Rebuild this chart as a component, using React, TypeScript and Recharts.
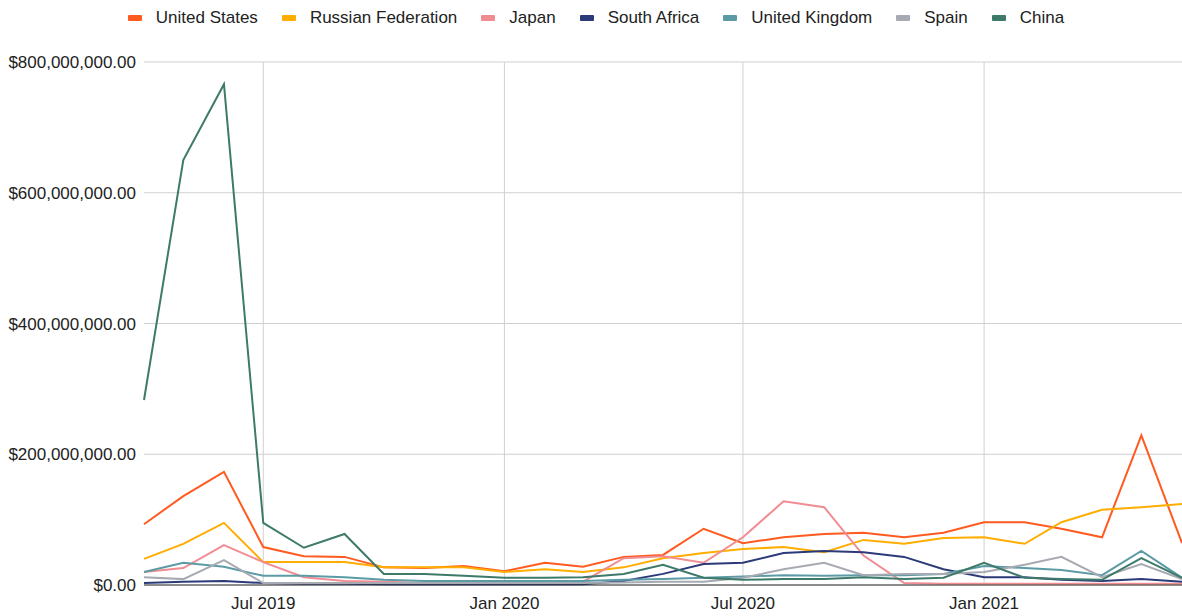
import { LineChart, Line, XAxis, YAxis, CartesianGrid } from 'recharts';

// monthly points, Apr 2019 .. Jun 2021
const months = [
  '2019-04', '2019-05', '2019-06', '2019-07', '2019-08', '2019-09', '2019-10', '2019-11', '2019-12',
  '2020-01', '2020-02', '2020-03', '2020-04', '2020-05', '2020-06', '2020-07', '2020-08', '2020-09',
  '2020-10', '2020-11', '2020-12', '2021-01', '2021-02', '2021-03', '2021-04', '2021-05', '2021-06',
];

// values in millions of dollars
const unitedStates = [93, 136, 173, 58, 44, 43, 27, 26, 29, 21, 34, 28, 43, 46, 86, 64, 73, 78, 80, 73, 80, 96, 96, 86, 73, 229, 64];
const russianFederation = [40, 63, 95, 35, 35, 35, 27, 27, 27, 20, 24, 20, 27, 41, 49, 55, 58, 50, 69, 63, 72, 73, 63, 96, 115, 119, 124];
const japan = [20, 26, 61, 35, 12, 6, 5, 3, 3, 3, 3, 5, 41, 44, 34, 73, 128, 119, 45, 3, 2, 2, 2, 2, 2, 2, 2];
const southAfrica = [3, 5, 6, 3, 2, 2, 1, 1, 1, 1, 1, 1, 6, 17, 32, 34, 49, 52, 50, 43, 24, 12, 12, 8, 6, 9, 5];
const unitedKingdom = [20, 34, 28, 14, 14, 12, 8, 6, 6, 6, 6, 6, 8, 9, 11, 13, 15, 14, 15, 15, 17, 29, 26, 23, 15, 52, 11];
const spain = [12, 9, 38, 3, 3, 3, 3, 3, 3, 3, 3, 3, 4, 5, 5, 11, 24, 34, 15, 17, 17, 20, 31, 43, 12, 32, 9];
const china = [283, 650, 766, 95, 57, 78, 17, 17, 14, 11, 11, 12, 17, 31, 11, 8, 9, 9, 12, 9, 11, 34, 11, 9, 8, 41, 11];

const tickMonths = ['2019-07', '2020-01', '2020-07', '2021-01'];
const tickNames = ['Jul 2019', 'Jan 2020', 'Jul 2020', 'Jan 2021'];
const yTicks = [0, 200, 400, 600, 800];

const series = [
  { key: 'us', name: 'United States', values: unitedStates, color: '#ff5a1f' },
  { key: 'ru', name: 'Russian Federation', values: russianFederation, color: '#ffad00' },
  { key: 'jp', name: 'Japan', values: japan, color: '#f18c93' },
  { key: 'za', name: 'South Africa', values: southAfrica, color: '#2b3a78' },
  { key: 'uk', name: 'United Kingdom', values: unitedKingdom, color: '#5c9ba6' },
  { key: 'es', name: 'Spain', values: spain, color: '#a7aab2' },
  { key: 'cn', name: 'China', values: china, color: '#3e7a6a' },
];

const toTime = (m: string) => {
  const [y, mo] = m.split('-').map(Number);
  return Date.UTC(y, mo - 1, 1);
};

const data = months.map((m, i) => {
  const row: Record<string, number> = { t: toTime(m) };
  series.forEach((s) => {
    row[s.key] = s.values[i] * 1e6;
  });
  return row;
});

const xTicks = tickMonths.map(toTime);
const font = '"Liberation Sans", Arial, sans-serif';

const fmtMoney = (v: number) =>
  '$' + v.toLocaleString('en-US', { minimumFractionDigits: 2, maximumFractionDigits: 2 });

const fmtMonth = (v: number) => tickNames[xTicks.indexOf(v)] ?? '';

export default function App() {
  return (
    <div style={{ position: 'absolute', left: 0, top: 0, width: 1182, height: 616, fontFamily: font }}>
      <div
        style={{
          position: 'absolute',
          top: 0,
          left: 0,
          width: 1182,
          height: 35,
          paddingLeft: 10,
          boxSizing: 'border-box',
          display: 'flex',
          justifyContent: 'center',
          alignItems: 'center',
          fontSize: 17,
          color: '#222',
        }}
      >
        {series.map((s, i) => (
          <div key={s.key} style={{ display: 'flex', alignItems: 'center', marginRight: i < series.length - 1 ? 24 : 0 }}>
            <span style={{ display: 'inline-block', width: 14, height: 6, background: s.color, marginRight: 14, borderRadius: 1 }} />
            <span>{s.name}</span>
          </div>
        ))}
      </div>
      <LineChart width={1182} height={616} data={data} margin={{ top: 62, right: 0, bottom: 0, left: 0 }}>
        <CartesianGrid stroke="#d0d0d0" verticalValues={xTicks} />
        <XAxis
          dataKey="t"
          type="number"
          scale="time"
          domain={[toTime(months[0]), toTime(months[months.length - 1])]}
          ticks={xTicks}
          tickFormatter={fmtMonth}
          height={31}
          tickLine={false}
          tickMargin={6}
          axisLine={{ stroke: '#333', strokeWidth: 1 }}
          tick={{ fill: '#222', fontSize: 17, fontFamily: font }}
        />
        <YAxis
          width={144}
          domain={[0, 800e6]}
          ticks={yTicks.map((v) => v * 1e6)}
          tickFormatter={fmtMoney}
          axisLine={false}
          tickLine={false}
          tickMargin={2}
          tick={{ fill: '#222', fontSize: 17, fontFamily: font }}
        />
        {series.map((s) => (
          <Line
            key={s.key}
            type="linear"
            dataKey={s.key}
            name={s.name}
            stroke={s.color}
            strokeWidth={2}
            dot={false}
            isAnimationActive={false}
          />
        ))}
      </LineChart>
    </div>
  );
}
